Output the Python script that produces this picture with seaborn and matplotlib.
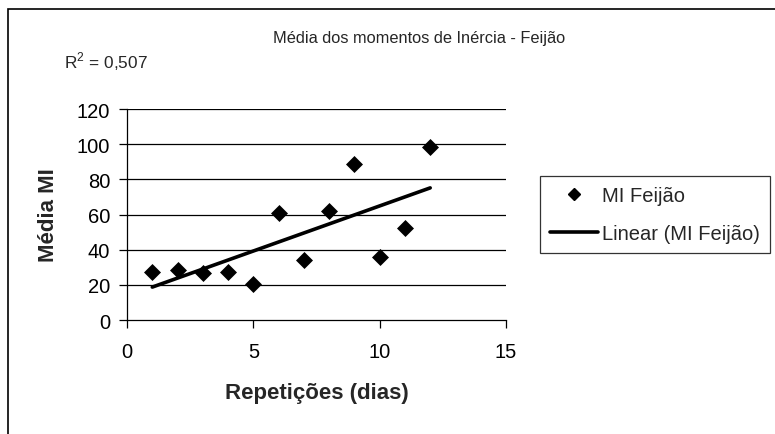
import matplotlib
matplotlib.use("Agg")
import matplotlib.pyplot as plt
import seaborn as sns
import pandas as pd
from matplotlib.lines import Line2D
from matplotlib.patches import Rectangle

# Average moment of inertia per repetition day (bean samples)
dias = [1, 2, 3, 4, 5, 6, 7, 8, 9, 10, 11, 12]
media_mi = [27.3, 28.5, 27.0, 27.3, 20.3, 61.1, 34.2, 62.2, 88.6, 36.0, 52.2, 98.7]
x_ticks = [0, 5, 10, 15]
y_ticks = [0, 20, 40, 60, 80, 100, 120]
r2_text = "R$^2$ = 0,507"

df = pd.DataFrame({"dias": dias, "media": media_mi})

sns.set_theme(style="white")
plt.rcParams["font.family"] = ["Liberation Sans", "DejaVu Sans"]
plt.rcParams["mathtext.fontset"] = "custom"
plt.rcParams["mathtext.rm"] = "Liberation Sans"

fig = plt.figure(figsize=(7.75, 4.35), dpi=100)
ax = fig.add_axes([0.1639, 0.262, 0.489, 0.485])

# horizontal gridlines
for yv in y_ticks[1:]:
    ax.axhline(yv, color="black", lw=0.9, zorder=0)

sns.regplot(data=df, x="dias", y="media", ax=ax, scatter=False, ci=None,
            truncate=True, line_kws=dict(color="black", lw=2.6))
sns.scatterplot(data=df, x="dias", y="media", ax=ax, marker="D", s=75,
                color="black", edgecolor="black", linewidth=0, zorder=3)

ax.set_xlim(0, 15)
ax.set_ylim(0, 120)
ax.set_xticks(x_ticks)
ax.set_yticks(y_ticks)
ax.tick_params(axis="both", labelsize=14.5, colors="black", length=6,
               width=0.9, direction="out")
ax.tick_params(axis="x", bottom=True, pad=10)
ax.tick_params(axis="y", left=True, pad=6)
for side in ["top", "right"]:
    ax.spines[side].set_visible(False)
for side in ["left", "bottom"]:
    ax.spines[side].set_color("black")
    ax.spines[side].set_linewidth(0.9)

ax.set_xlabel("Repetições (dias)", fontsize=16, fontweight="bold", labelpad=15)
ax.set_ylabel("Média MI", fontsize=16, fontweight="bold", labelpad=13)

fig.text(419 / 775, 1 - 38 / 435, "Média dos momentos de Inércia - Feijão",
         ha="center", va="center", fontsize=11.8)
fig.text(64 / 775, 1 - 62 / 435, r2_text, ha="left", va="center",
         fontsize=12.4)

handles = [
    Line2D([], [], marker="D", color="black", linestyle="none", markersize=6),
    Line2D([], [], color="black", lw=2.6),
]
leg = fig.legend(handles, ["MI Feijão", "Linear (MI Feijão)"],
                 loc="upper left", bbox_to_anchor=(540 / 775, 1 - 177 / 435),
                 fontsize=14.5, frameon=True, fancybox=False, borderpad=0.5,
                 handlelength=2.4, handletextpad=0.2, labelspacing=0.95,
                 borderaxespad=0)
leg.get_frame().set_edgecolor("black")
leg.get_frame().set_linewidth(0.9)

# outer chart-area border (top and left edges in view)
fig.patches.append(Rectangle((8 / 775, -0.1), 1.2, 1 - 10 / 435 + 0.1,
                             transform=fig.transFigure, fill=False,
                             edgecolor="black", lw=1.2))

fig.savefig("out.png", dpi=100)
